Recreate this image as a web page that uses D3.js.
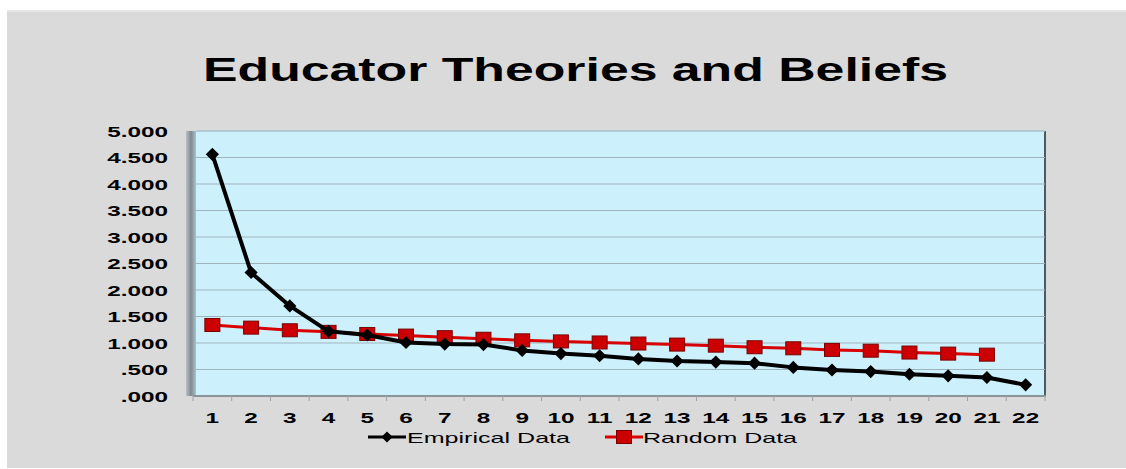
<!DOCTYPE html>
<html>
<head>
<meta charset="utf-8">
<script src="https://cdn.jsdelivr.net/npm/d3@7"></script>
<style>
  body { margin: 0; background: #fff; }
  text { font-family: "Liberation Sans", Arial, sans-serif; }
</style>
</head>
<body>
<div id="container"></div>
<script>
var categories = ["1","2","3","4","5","6","7","8","9","10","11","12","13","14","15","16","17","18","19","20","21","22"];
var empirical = [4.56, 2.33, 1.70, 1.22, 1.15, 1.01, 0.98, 0.97, 0.86, 0.80, 0.76, 0.70, 0.66, 0.64, 0.62, 0.54, 0.49, 0.46, 0.41, 0.38, 0.35, 0.21];
var random = [1.34, 1.29, 1.24, 1.21, 1.17, 1.14, 1.11, 1.08, 1.05, 1.03, 1.01, 0.99, 0.97, 0.95, 0.92, 0.90, 0.87, 0.855, 0.82, 0.80, 0.78];
var yTicks = [0, 0.5, 1, 1.5, 2, 2.5, 3, 3.5, 4, 4.5, 5];

var width = 1126, height = 469;
var svg = d3.select("#container").append("svg")
    .attr("width", width)
    .attr("height", height);

var defs = svg.append("defs");
var grad = defs.append("linearGradient").attr("id", "wallShade").attr("x1", 0).attr("x2", 1).attr("y1", 0).attr("y2", 0);
grad.append("stop").attr("offset", "0%").attr("stop-color", "#b9c0c3");
grad.append("stop").attr("offset", "50%").attr("stop-color", "#7f898e");
grad.append("stop").attr("offset", "100%").attr("stop-color", "#a9c4cf");

// chart background
svg.append("rect").attr("x", 7).attr("y", 10).attr("width", width - 7).attr("height", 458).attr("fill", "#dadada");
svg.append("line").attr("x1", 7).attr("x2", width).attr("y1", 11).attr("y2", 11).attr("stroke", "#e6e6e6").attr("stroke-width", 2);

// text in the picture is stretched sideways
svg.append("text")
    .attr("x", 203).attr("y", 81)
    .attr("textLength", 745).attr("lengthAdjust", "spacingAndGlyphs")
    .style("font-size", "34px").style("font-weight", "bold")
    .text("Educator Theories and Beliefs");

var pLeft = 193, pRight = 1045, pTop = 131, pBottom = 396;
var sx = 1.62;

var x = d3.scaleBand().domain(categories).range([pLeft, pRight]);
var y = d3.scaleLinear().domain([0, 5]).range([pBottom, pTop]);

// plot area with shaded edges
svg.append("rect").attr("x", 186).attr("y", pTop).attr("width", 10).attr("height", pBottom - pTop).attr("fill", "url(#wallShade)");
svg.append("rect").attr("x", 196).attr("y", pTop).attr("width", pRight - 196).attr("height", pBottom - pTop).attr("fill", "#ccf0fc");
svg.append("line").attr("x1", pRight).attr("x2", pRight).attr("y1", pTop).attr("y2", pBottom).attr("stroke", "#4d5a60").attr("stroke-width", 2);
svg.append("line").attr("x1", 196).attr("x2", pRight).attr("y1", pTop).attr("y2", pTop).attr("stroke", "#b8dbe6").attr("stroke-width", 1);

svg.append("g").selectAll("line").data(yTicks.slice(1)).enter().append("line")
    .attr("x1", 196).attr("x2", pRight)
    .attr("y1", function(d) { return y(d); }).attr("y2", function(d) { return y(d); })
    .attr("stroke", "#9fb3bc").attr("stroke-width", 1.2);

// axes
var yAxis = svg.append("g").attr("transform", "translate(" + pLeft + ",0)")
    .call(d3.axisLeft(y).tickValues(yTicks).tickSize(0)
        .tickFormat(function(d) { return d3.format(".3f")(d).replace(/^0/, ""); }));
yAxis.select(".domain").remove();
yAxis.selectAll("text")
    .attr("x", -25 / sx).attr("dy", "0.36em")
    .attr("transform", "scale(" + sx + ",1)")
    .style("font-size", "15px").style("font-weight", "bold").attr("fill", "#000");

svg.append("line").attr("x1", pLeft).attr("x2", pRight + 1).attr("y1", pBottom).attr("y2", pBottom).attr("stroke", "#8a9499").attr("stroke-width", 2);

var xAxis = svg.append("g").attr("transform", "translate(0," + pBottom + ")")
    .call(d3.axisBottom(x).tickSize(0));
xAxis.select(".domain").remove();
xAxis.selectAll("text")
    .attr("y", 27).attr("dy", null)
    .attr("transform", "scale(" + sx + ",1)")
    .style("font-size", "15px").style("font-weight", "bold").attr("fill", "#000");

svg.append("g").selectAll("line").data(d3.range(categories.length + 1)).enter().append("line")
    .attr("x1", function(i) { return pLeft + i * x.bandwidth(); })
    .attr("x2", function(i) { return pLeft + i * x.bandwidth(); })
    .attr("y1", pBottom).attr("y2", pBottom + 5)
    .attr("stroke", "#9aa4a8").attr("stroke-width", 1);

var cx = function(d, i) { return x(categories[i]) + x.bandwidth() / 2; };
var line = d3.line().x(cx).y(function(d) { return y(d); });

// random series
svg.append("path").datum(random).attr("d", line)
    .attr("fill", "none").attr("stroke", "#d90000").attr("stroke-width", 3);
svg.append("g").selectAll("rect").data(random).enter().append("rect")
    .attr("x", function(d, i) { return cx(d, i) - 7.5; })
    .attr("y", function(d) { return y(d) - 6.5; })
    .attr("width", 15).attr("height", 13)
    .attr("fill", "#cc0000").attr("stroke", "#7a0000").attr("stroke-width", 1);

// empirical series
svg.append("path").datum(empirical).attr("d", line)
    .attr("fill", "none").attr("stroke", "#000").attr("stroke-width", 4).attr("stroke-linejoin", "round");
svg.append("g").selectAll("path.dia").data(empirical).enter().append("path")
    .attr("class", "dia")
    .attr("d", d3.symbol().type(d3.symbolDiamond2).size(110))
    .attr("transform", function(d, i) { return "translate(" + cx(d, i) + "," + y(d) + ")"; })
    .attr("fill", "#000");

// legend
var leg = svg.append("g");
leg.append("line").attr("x1", 368).attr("x2", 406).attr("y1", 437).attr("y2", 437).attr("stroke", "#000").attr("stroke-width", 3);
leg.append("path").attr("d", d3.symbol().type(d3.symbolDiamond2).size(80)).attr("transform", "translate(387,437)").attr("fill", "#000");
leg.append("text").attr("x", 407).attr("y", 443)
    .attr("textLength", 163).attr("lengthAdjust", "spacingAndGlyphs")
    .style("font-size", "15px").text("Empirical Data");
leg.append("line").attr("x1", 605).attr("x2", 643).attr("y1", 437).attr("y2", 437).attr("stroke", "#d90000").attr("stroke-width", 3);
leg.append("rect").attr("x", 616.5).attr("y", 430.5).attr("width", 15).attr("height", 13).attr("fill", "#cc0000").attr("stroke", "#7a0000");
leg.append("text").attr("x", 643).attr("y", 443)
    .attr("textLength", 154).attr("lengthAdjust", "spacingAndGlyphs")
    .style("font-size", "15px").text("Random Data");
</script>
</body>
</html>
